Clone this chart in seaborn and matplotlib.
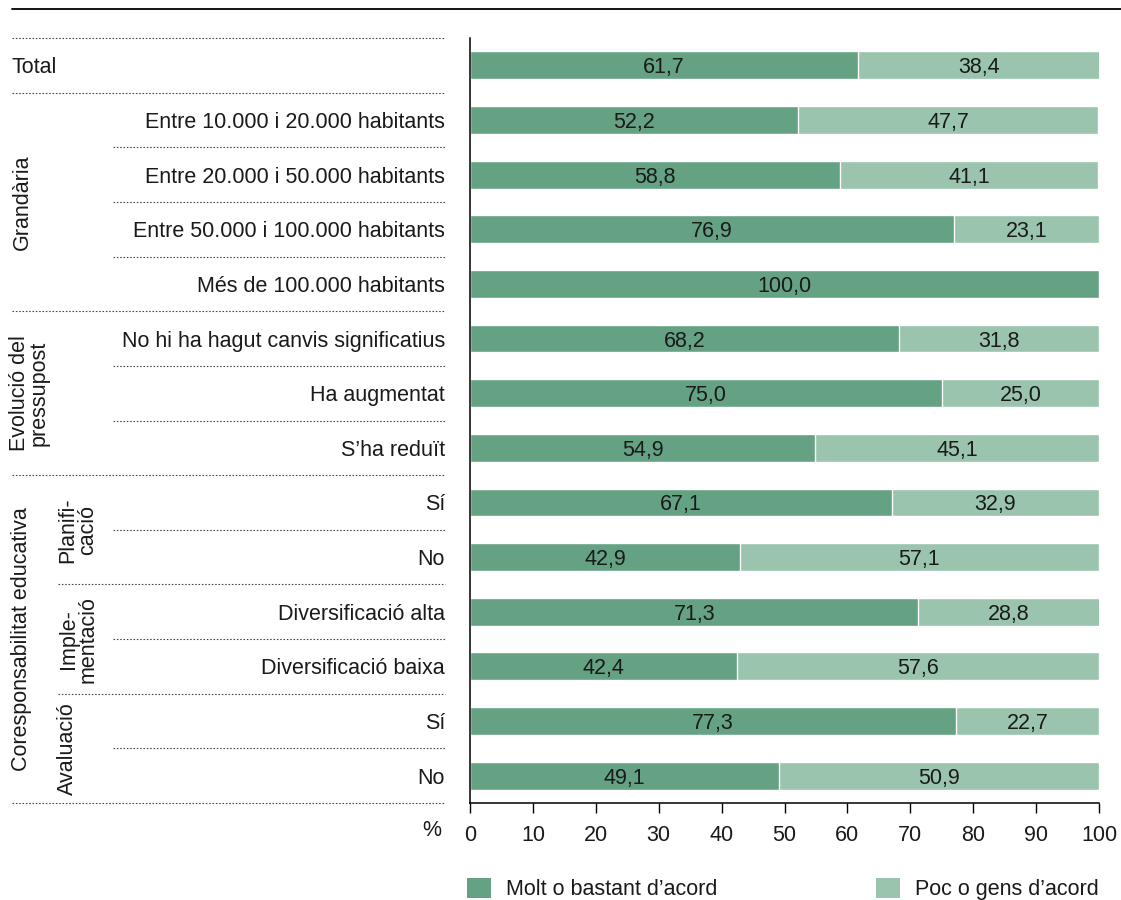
import numpy as np
import pandas as pd
import matplotlib
matplotlib.use("Agg")
import matplotlib.pyplot as plt
import seaborn as sns
from matplotlib.transforms import blended_transform_factory
from matplotlib.patches import Patch

# Row labels (top to bottom)
row_labels = [
    "Total",
    "Entre 10.000 i 20.000 habitants",
    "Entre 20.000 i 50.000 habitants",
    "Entre 50.000 i 100.000 habitants",
    "Més de 100.000 habitants",
    "No hi ha hagut canvis significatius",
    "Ha augmentat",
    "S\u2019ha reduït",
    "Sí",
    "No",
    "Diversificació alta",
    "Diversificació baixa",
    "Sí",
    "No",
]
agree = [61.7, 52.2, 58.8, 76.9, 100.0, 68.2, 75.0, 54.9, 67.1, 42.9, 71.3, 42.4, 77.3, 49.1]
disagree = [38.4, 47.7, 41.1, 23.1, 0.0, 31.8, 25.0, 45.1, 32.9, 57.1, 28.8, 57.6, 22.7, 50.9]
series_names = ["Molt o bastant d\u2019acord", "Poc o gens d\u2019acord"]
x_ticks = [0, 10, 20, 30, 40, 50, 60, 70, 80, 90, 100]

DARK = "#64a283"
LIGHT = "#9ac4ad"
TEXT = "#1a1a1a"

sns.set_theme(style="white")
plt.rcParams["font.family"] = ["Liberation Sans", "DejaVu Sans"]
FS = 15.5

W, H = 1121, 900
fig = plt.figure(figsize=(W / 100, H / 100), dpi=100)
ax = fig.add_axes([470 / W, 1 - 803 / H, (1099 - 470) / W, (803 - 38) / H])

df = pd.DataFrame({
    "row": np.arange(len(row_labels)),
    "agree": agree,
    "disagree": disagree,
})
df["end"] = df["agree"] + df["disagree"]

sns.barplot(data=df, x="end", y="row", orient="h", color=LIGHT, width=0.51,
            saturation=1, ax=ax)
sns.barplot(data=df, x="agree", y="row", orient="h", color=DARK, width=0.51,
            saturation=1, ax=ax)

ax.set_xlim(0, 100)
ax.set_ylim(len(row_labels) - 0.5, -0.5)
ax.set_xlabel("")
ax.set_ylabel("")
ax.set_yticks([])
ax.set_xticks(x_ticks)
ax.set_xticklabels([str(t) for t in x_ticks], fontsize=FS, color=TEXT)
ax.tick_params(axis="x", length=7, width=1, color="black", pad=9, bottom=True)
for side in ["top", "right"]:
    ax.spines[side].set_visible(False)
for side in ["left", "bottom"]:
    ax.spines[side].set_color("black")
    ax.spines[side].set_linewidth(1.1)

# Value labels centred in each segment
for i, (a, d) in enumerate(zip(agree, disagree)):
    ax.text(a / 2, i, f"{a:.1f}".replace(".", ","), ha="center",
            va="center_baseline", fontsize=FS, color=TEXT)
    if d > 0:
        ax.text(a + d / 2, i, f"{d:.1f}".replace(".", ","), ha="center",
                va="center_baseline", fontsize=FS, color=TEXT)

# Row labels in the left margin
tr = blended_transform_factory(fig.transFigure, ax.transData)
for i, lab in enumerate(row_labels):
    if i == 0:
        ax.text(12 / W, i, lab, transform=tr, ha="left", va="center_baseline",
                fontsize=FS, color=TEXT)
    else:
        ax.text(445 / W, i, lab, transform=tr, ha="right", va="center_baseline",
                fontsize=FS, color=TEXT)

# Dotted separators: start (pixels) of the boundary above each row, plus bottom edge
sep_start = {0: 12, 1: 12, 2: 113, 3: 113, 4: 113, 5: 12, 6: 113, 7: 113,
             8: 12, 9: 113, 10: 58, 11: 113, 12: 58, 13: 113, 14: 12}
for b, x0 in sep_start.items():
    ax.plot([x0 / W, 445 / W], [b - 0.5, b - 0.5], transform=tr, clip_on=False,
            color="#444444", lw=0.8, ls=(0, (1.4, 1.6)))

# Group labels
def group_label(xpx, y0, y1, text):
    ax.text(xpx / W, (y0 + y1) / 2, text, transform=tr, rotation=90,
            ha="center", va="center", fontsize=FS, color=TEXT,
            linespacing=0.92, multialignment="center")

group_label(22, 1, 4, "Grandària")
group_label(29, 5, 7, "Evolució del\npressupost")
group_label(22, 8, 13, "Coresponsabilitat educativa")
group_label(78, 8, 9, "Planifi-\ncació")
group_label(78, 10, 11, "Imple-\nmentació")
group_label(67, 12, 13, "Avaluació")

# "%" unit next to the x tick labels
fig.text(432 / W, 1 - 831 / H, "%", ha="center", va="center", fontsize=FS,
         color=TEXT)

# Top rule
fig.add_artist(plt.Line2D([12 / W, 1], [1 - 9 / H, 1 - 9 / H],
                          transform=fig.transFigure, color="black", lw=1.3))

# Legend: two entries placed apart
for col, name, xpx in [(DARK, series_names[0], 467), (LIGHT, series_names[1], 876)]:
    leg = fig.legend(handles=[Patch(facecolor=col, edgecolor="none", label=name)],
                     loc="center left", bbox_to_anchor=(xpx / W, 1 - 889 / H),
                     frameon=False, fontsize=FS, handlelength=1.1,
                     handleheight=1.1, handletextpad=0.7, borderpad=0,
                     borderaxespad=0)
    for t in leg.get_texts():
        t.set_color(TEXT)

fig.savefig("out.png", dpi=100)
